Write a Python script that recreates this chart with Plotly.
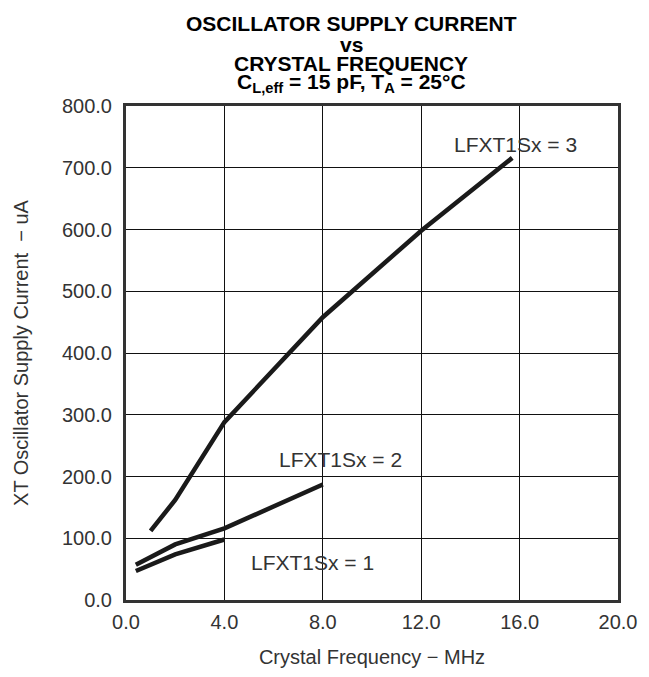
import plotly.graph_objects as go

# crystal frequency (MHz) and supply current (uA) per LFXT1Sx setting
freq_s1 = [0.4, 2.0, 4.0]
curr_s1 = [47, 74, 98]

freq_s2 = [0.4, 2.0, 4.0, 8.0]
curr_s2 = [57, 90, 116, 187]

freq_s3 = [1.0, 2.0, 4.0, 8.0, 12.0, 15.7]
curr_s3 = [112, 162, 288, 458, 598, 716]

series = [
    (freq_s1, curr_s1),
    (freq_s2, curr_s2),
    (freq_s3, curr_s3),
]

# curve labels: (x, y, text)
curve_labels = [
    (7.6, 60, "LFXT1Sx = 1"),
    (8.7, 227, "LFXT1Sx = 2"),
    (15.85, 737, "LFXT1Sx = 3"),
]

title_lines = [
    "OSCILLATOR SUPPLY CURRENT",
    "vs",
    "CRYSTAL FREQUENCY",
    "C<sub>L,eff</sub> = 15 pF, T<sub>A</sub> = 25°C",
]

FONT = "Arial, Liberation Sans, Helvetica, sans-serif"

fig = go.Figure()
for xs, ys in series:
    fig.add_trace(
        go.Scatter(
            x=xs,
            y=ys,
            mode="lines",
            line=dict(color="#1a1a1a", width=4.5),
            showlegend=False,
            hoverinfo="skip",
        )
    )

for x, y, txt in curve_labels:
    fig.add_annotation(
        x=x, y=y, xref="x", yref="y", text=txt, showarrow=False,
        font=dict(family=FONT, size=21, color="#333333"),
    )

# title drawn line by line to keep the tight line spacing
title_y = [1.166, 1.125, 1.087, 1.046]
for txt, ty in zip(title_lines, title_y):
    fig.add_annotation(
        x=0.458, y=ty, xref="paper", yref="paper", text=f"<b>{txt}</b>",
        showarrow=False, yanchor="middle",
        font=dict(family=FONT, size=21, color="#000000"),
    )

axis_common = dict(
    showline=True,
    mirror=True,
    linecolor="#333333",
    linewidth=3,
    showgrid=True,
    gridcolor="#111111",
    gridwidth=1.2,
    zeroline=False,
    ticks="",
    tickformat=".1f",
    tickfont=dict(family=FONT, size=20, color="#333333"),
)

fig.update_xaxes(
    range=[0, 20], dtick=4, tick0=0,
    ticklabelstandoff=2,
    title=dict(text="Crystal Frequency − MHz", standoff=18,
               font=dict(family=FONT, size=20, color="#333333")),
    **axis_common,
)
fig.update_yaxes(
    range=[0, 800], dtick=100, tick0=0,
    ticklabelstandoff=7,
    title=dict(text="XT Oscillator Supply Current  − uA", standoff=28,
               font=dict(family=FONT, size=20, color="#333333")),
    **axis_common,
)

# the page adds an 8 px body margin, so the figure is laid out 8 px smaller
fig.update_layout(
    width=641,
    height=669,
    margin=dict(l=118, r=21, t=98, b=66),
    paper_bgcolor="white",
    plot_bgcolor="white",
    font=dict(family=FONT),
)

fig.write_html("out.html")
